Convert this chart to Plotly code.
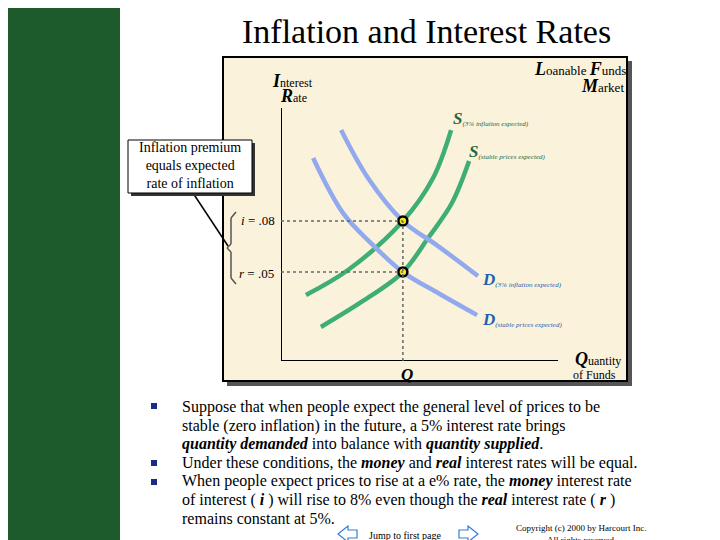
import plotly.graph_objects as go

# ---- data ----
s_infl_q = [0.9, 2.42, 4.4, 5.49, 6.14]
s_infl_r = [0.0364, 0.0511, 0.0799, 0.1052, 0.1334]
s_stab_q = [1.44, 2.96, 4.4, 5.31, 6.17, 6.79]
s_stab_r = [0.0176, 0.0329, 0.0499, 0.0699, 0.0905, 0.1152]
d_infl_q = [2.17, 3.14, 4.4, 5.67, 7.11]
d_infl_r = [0.1334, 0.1052, 0.0799, 0.0652, 0.0476]
d_stab_q = [1.16, 2.24, 3.32, 4.4, 5.67, 7.08]
d_stab_r = [0.1170, 0.0846, 0.0658, 0.0499, 0.0376, 0.0246]
eq_q = [4.4, 4.4]
eq_r = [0.08, 0.05]
rate_labels = ["<i>i</i> = .08", "<i>r</i> = .05"]

GREEN = "#3fae74"
BLUE = "#92a9ee"
SERIF = "Liberation Serif"
W, H = 720, 540

def px(x): return x / W
def py(y): return 1 - y / H

fig = go.Figure()
fig.update_layout(
    width=W, height=H, margin=dict(l=0, r=0, t=0, b=0),
    paper_bgcolor="white", plot_bgcolor="rgba(0,0,0,0)", showlegend=False,
    xaxis=dict(domain=[273/W, 550/W], range=[0, 10], showgrid=False, zeroline=False,
               showticklabels=False, showline=False, fixedrange=True),
    yaxis=dict(domain=[(H-353)/H, (H-100)/H], range=[-0.0024, 0.1464], showgrid=False,
               zeroline=False, showticklabels=False, showline=False, fixedrange=True),
)

shapes = []
P = dict(xref="paper", yref="paper")
def rect(x0, y0, x1, y1, **kw):
    shapes.append(dict(type="rect", x0=px(x0), x1=px(x1), y0=py(y0), y1=py(y1), **P, **kw))
def line(x0, y0, x1, y1, **kw):
    shapes.append(dict(type="line", x0=px(x0), x1=px(x1), y0=py(y0), y1=py(y1), **P, **kw))
def path(pts, **kw):
    d = "M " + " L ".join(f"{px(a):.5f} {py(b):.5f}" for a, b in pts) + " Z"
    shapes.append(dict(type="path", path=d, **P, **kw))

rect(0, 0, 112, 540, fillcolor="#1d5a2c", line_width=0, layer="below")
rect(219, 53, 624, 378, fillcolor="#555", line_width=0, layer="below")
rect(215, 49, 619, 373, fillcolor="#fbf2dc", line=dict(color="black", width=2), layer="below")
line(185, 185, 220, 238, line=dict(color="black", width=1.5))
rect(123, 135, 247, 188, fillcolor="#333", line_width=0)
rect(120, 132, 244, 185, fillcolor="white", line=dict(color="black", width=1))
# brace
line(228, 204, 223, 210, line=dict(color="#555", width=1.5))
line(223, 210, 223, 236, line=dict(color="#555", width=1.5))
line(223, 236, 219, 240, line=dict(color="#555", width=1.5))
line(219, 240, 223, 244, line=dict(color="#555", width=1.5))
line(223, 244, 223, 270, line=dict(color="#555", width=1.5))
line(223, 270, 228, 276, line=dict(color="#555", width=1.5))
# axes in data coords
shapes.append(dict(type="line", xref="x", yref="y", x0=0, y0=-0.0024, x1=0, y1=0.1464, line=dict(color="black", width=2)))
shapes.append(dict(type="line", xref="x", yref="y", x0=0, y0=-0.0024, x1=10, y1=-0.0024, line=dict(color="black", width=2)))
for r in eq_r:
    shapes.append(dict(type="line", xref="x", yref="y", x0=0, y0=r, x1=eq_q[0], y1=r, line=dict(color="#666", width=1.5, dash="dot")))
shapes.append(dict(type="line", xref="x", yref="y", x0=eq_q[0], y0=-0.0024, x1=eq_q[0], y1=max(eq_r), line=dict(color="#666", width=1.5, dash="dot")))
for by in [398, 455, 474]:
    rect(143, by-3, 149, by+3, fillcolor="#1a2a8a", line_width=0)
path([(330, 526), (340, 518), (340, 522), (349, 522), (349, 530), (340, 530), (340, 534)],
     line=dict(color="#3a7bd5", width=1.2), fillcolor="white")
path([(470, 526), (460, 518), (460, 522), (451, 522), (451, 530), (460, 530), (460, 534)],
     line=dict(color="#3a7bd5", width=1.2), fillcolor="white")
fig.update_layout(shapes=shapes)

for q, r, c in [(s_infl_q, s_infl_r, GREEN), (s_stab_q, s_stab_r, GREEN),
                (d_infl_q, d_infl_r, BLUE), (d_stab_q, d_stab_r, BLUE)]:
    fig.add_trace(go.Scatter(x=q, y=r, mode="lines", line=dict(color=c, width=4.5, shape="spline"),
                             hoverinfo="skip", cliponaxis=False))
fig.add_trace(go.Scatter(x=eq_q, y=eq_r, mode="markers", cliponaxis=False,
                         marker=dict(color="#f5e61a", size=9, line=dict(color="black", width=2.5))))

ann = []
def A(x, y, t, size=14, color="black", xa="center"):
    ann.append(dict(x=px(x), y=py(y), text=t, showarrow=False, xanchor=xa, yanchor="middle",
                    font=dict(family=SERIF, size=size, color=color), xref="paper", yref="paper"))

A(418, 24, "Inflation and Interest Rates", 34)
A(262, 73, "<b><i><span style='font-size:18px'>I</span></i></b>nterest", 12, xa="left")
A(270, 88, "<b><i><span style='font-size:18px'>R</span></i></b>ate", 12, xa="left")
A(620, 61, "<b><i><span style='font-size:18px'>L</span></i></b>oanable <b><i><span style='font-size:18px'>F</span></i></b>unds", 13, xa="right")
A(618, 78, "<b><i><span style='font-size:18px'>M</span></i></b>arket", 13, xa="right")
A(443, 110, "<b><i><span style='font-size:17px'>S</span></i></b><i><sub>(3% inflation expected)</sub></i>", 10, "#1e6b3c", "left")
A(459, 143, "<b><i><span style='font-size:17px'>S</span></i></b><i><sub>(stable prices expected)</sub></i>", 10, "#1e6b3c", "left")
A(472, 271, "<b><i><span style='font-size:17px'>D</span></i></b><i><sub>(3% inflation expected)</sub></i>", 10, "#1f5fb0", "left")
A(472, 311, "<b><i><span style='font-size:17px'>D</span></i></b><i><sub>(stable prices expected)</sub></i>", 10, "#1f5fb0", "left")
A(182, 158, "Inflation premium<br>equals expected<br>rate of inflation", 14)
A(231, 213, rate_labels[0], 13, xa="left")
A(229, 265, rate_labels[1], 13, xa="left")
A(399, 366, "<b><i>Q</i></b>", 17)
A(565, 351, "<b><i><span style='font-size:18px'>Q</span></i></b>uantity", 12, xa="left")
A(563, 367, "of Funds", 12, xa="left")

bl = ["Suppose that when people expect the general level of prices to be",
      "stable (zero inflation) in the future, a 5% interest rate brings",
      "<b><i>quantity demanded</i></b> into balance with <b><i>quantity supplied</i></b>.",
      "Under these conditions, the <b><i>money</i></b> and <b><i>real</i></b> interest rates will be equal.",
      "When people expect prices to rise at a e% rate, the <b><i>money</i></b> interest rate",
      "of interest ( <b><i>i</i></b> ) will rise to 8% even though the <b><i>real</i></b> interest rate ( <b><i>r</i></b> )",
      "remains constant at 5%."]
for k, t in enumerate(bl):
    A(172, 399 + k*18.6, t, 16, xa="left")

A(397, 527, "<u>Jump to first page</u>", 10)
A(573, 520, "Copyright (c) 2000 by Harcourt Inc.", 9)
A(573, 532, "All rights reserved.", 9)
fig.update_layout(annotations=ann)

fig.write_html("out.html")
